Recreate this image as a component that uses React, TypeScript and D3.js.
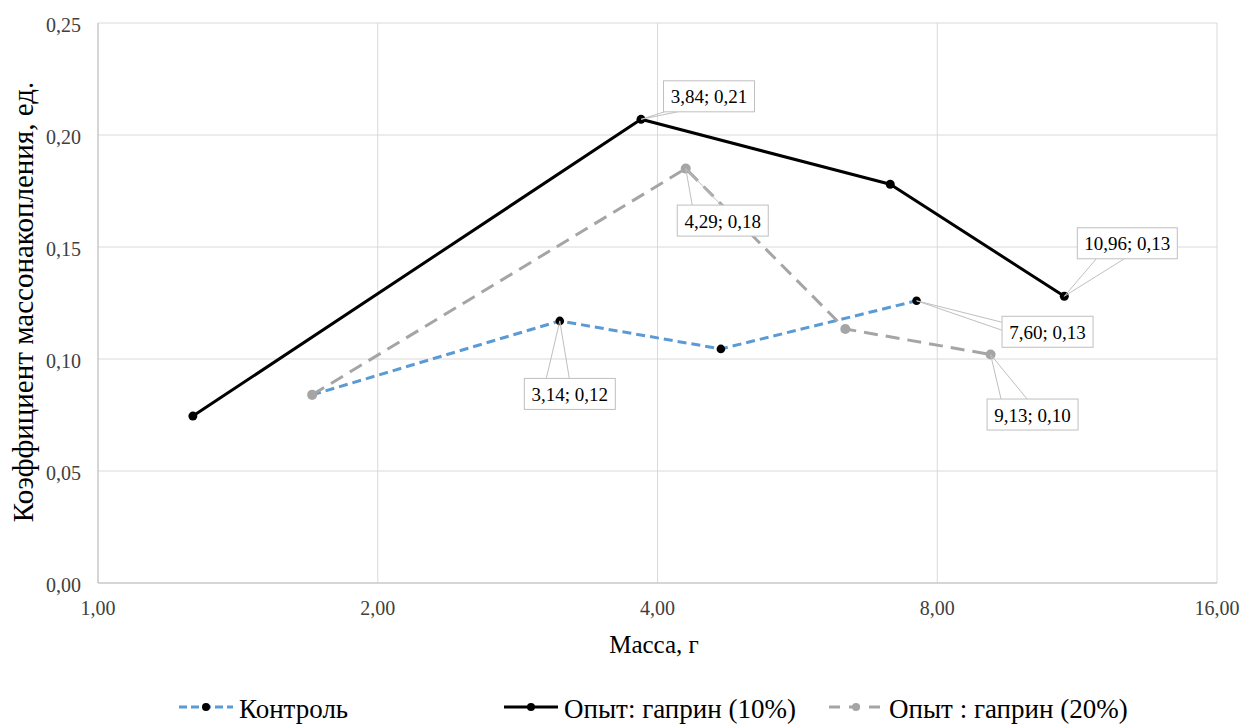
import React from "react";
import * as d3 from "d3";

const xTicks = [1, 2, 4, 8, 16];
const yTicks = [0, 0.05, 0.1, 0.15, 0.2, 0.25];

const controlX = [1.7, 3.14, 4.68, 7.6];
const controlY = [0.084, 0.117, 0.1045, 0.126];

const gap10X = [1.265, 3.84, 7.12, 10.96];
const gap10Y = [0.0745, 0.207, 0.178, 0.128];

const gap20X = [1.7, 4.29, 6.37, 9.13];
const gap20Y = [0.084, 0.185, 0.1134, 0.102];

const seriesNames = ["Контроль", "Опыт: гаприн (10%)", "Опыт : гаприн (20%)"];

// data labels: [series index, point index]
const labelPoints: [number, number][] = [
  [1, 1],
  [2, 1],
  [0, 1],
  [0, 3],
  [2, 3],
  [1, 3],
];
// layout: label box centre offsets from their points (px)
const labelOffsets: [number, number][] = [
  [68, -23],
  [37, 52],
  [10, 73],
  [131, 31],
  [42, 60],
  [63, -53],
];
// layout: leader attachment edge and offsets along that edge (px)
const labelLeaders: [string, number, number][] = [
  ["bottom", 1, 14],
  ["top", 15, 44],
  ["top", 22, 45],
  ["left", 6, 14],
  ["top", 14, 40],
  ["bottom", 19, 47],
];

const W = 1245;
const H = 725;
const M = { left: 98, right: 1217, top: 23, bottom: 583 };
const FONT = "'Liberation Serif', 'DejaVu Serif', serif";

const fmt = (v: number, d: number) => v.toFixed(d).replace(".", ",");

let ctx: CanvasRenderingContext2D | null = null;
function measure(text: string, size: number) {
  if (!ctx) ctx = document.createElement("canvas").getContext("2d");
  if (!ctx) return text.length * size * 0.45;
  ctx.font = `${size}px ${FONT}`;
  return ctx.measureText(text).width;
}

export default function App() {
  const x = d3.scaleLog().base(2).domain([1, 16]).range([M.left, M.right]);
  const y = d3.scaleLinear().domain([0, 0.25]).range([M.bottom, M.top]);

  const series = [
    { xs: controlX, ys: controlY, color: "#5B9BD5", dash: "9,5", width: 3, marker: "#000000", r: 4.3 },
    { xs: gap10X, ys: gap10Y, color: "#000000", dash: "", width: 3, marker: "#000000", r: 4.5 },
    { xs: gap20X, ys: gap20Y, color: "#A5A5A5", dash: "14,8", width: 3, marker: "#A5A5A5", r: 5 },
  ];

  const line = d3
    .line<[number, number]>()
    .x((d) => x(d[0]))
    .y((d) => y(d[1]));

  const labelFont = 19;
  const labelH = 31;

  const legendItems = [
    { x: 179, s: series[0], dash: "8,4" },
    { x: 504, s: series[1], dash: "" },
    { x: 829, s: series[2], dash: "11,9" },
  ];

  const T = { fontFamily: FONT } as React.CSSProperties;

  return (
    <svg
      width={W}
      height={H}
      style={{ position: "fixed", left: 0, top: 0, background: "#fff" }}
    >
      {/* gridlines */}
      {yTicks.map((t) => (
        <line key={"gy" + t} x1={M.left} x2={M.right} y1={y(t)} y2={y(t)} stroke="#D9D9D9" strokeWidth={1} />
      ))}
      {xTicks.map((t) => (
        <line key={"gx" + t} x1={x(t)} x2={x(t)} y1={M.top} y2={M.bottom} stroke="#D9D9D9" strokeWidth={1} />
      ))}
      {/* axes */}
      <line x1={M.left} x2={M.left} y1={M.top} y2={M.bottom} stroke="#BFBFBF" strokeWidth={1} />
      <line x1={M.left} x2={M.right} y1={M.bottom} y2={M.bottom} stroke="#BFBFBF" strokeWidth={1} />

      {/* tick labels */}
      {yTicks.map((t) => (
        <text key={"ty" + t} style={T} x={81} y={y(t) + 9} textAnchor="end" fontSize={20} fill="#404040">
          {fmt(t, 2)}
        </text>
      ))}
      {xTicks.map((t) => (
        <text key={"tx" + t} style={T} x={x(t)} y={615} textAnchor="middle" fontSize={20} fill="#404040">
          {fmt(t, 2)}
        </text>
      ))}

      {/* axis titles */}
      <text style={T} x={654} y={653} textAnchor="middle" fontSize={25} fill="#000">
        Масса, г
      </text>
      <text
        style={T}
        transform={`translate(33,302) rotate(-90)`}
        textAnchor="middle"
        fontSize={29}
        fill="#000"
      >
        Коэффициент массонакопления, ед.
      </text>

      {/* series */}
      {series.map((s, i) => {
        const pts: [number, number][] = s.xs.map((v, j) => [v, s.ys[j]]);
        return (
          <g key={"s" + i}>
            <path
              d={line(pts) || ""}
              fill="none"
              stroke={s.color}
              strokeWidth={s.width}
              strokeDasharray={s.dash}
              strokeLinejoin="round"
            />
            {pts.map((p, j) => (
              <circle key={j} cx={x(p[0])} cy={y(p[1])} r={s.r} fill={s.marker} />
            ))}
          </g>
        );
      })}

      {/* data labels */}
      {labelPoints.map(([si, pi], k) => {
        const s = series[si];
        const px = x(s.xs[pi]);
        const py = y(s.ys[pi]);
        const [dx, dy] = labelOffsets[k];
        const text = `${fmt(s.xs[pi], 2)}; ${fmt(s.ys[pi], 2)}`;
        const labelW = Math.round(measure(text, labelFont) + 14);
        const cx = px + dx;
        const cy = py + dy;
        const bx0 = cx - labelW / 2;
        const by0 = cy - labelH / 2;
        const by1 = cy + labelH / 2;
        const [edge, o1, o2] = labelLeaders[k];
        let a1: [number, number];
        let a2: [number, number];
        if (edge === "top" || edge === "bottom") {
          const ey = edge === "top" ? by0 : by1;
          a1 = [bx0 + o1, ey];
          a2 = [bx0 + o2, ey];
        } else {
          a1 = [bx0, by0 + o1];
          a2 = [bx0, by0 + o2];
        }
        return (
          <g key={"l" + k}>
            <line x1={px} y1={py} x2={a1[0]} y2={a1[1]} stroke="#BFBFBF" strokeWidth={1} />
            <line x1={px} y1={py} x2={a2[0]} y2={a2[1]} stroke="#BFBFBF" strokeWidth={1} />
            <rect x={bx0} y={by0} width={labelW} height={labelH} fill="#fff" stroke="#BFBFBF" strokeWidth={1} />
            <text style={T} x={cx} y={cy + 7} textAnchor="middle" fontSize={labelFont} fill="#000">
              {text}
            </text>
          </g>
        );
      })}

      {/* legend */}
      {legendItems.map((it, i) => (
        <g key={"lg" + i}>
          <line
            x1={it.x}
            x2={it.x + 54}
            y1={707}
            y2={707}
            stroke={it.s.color}
            strokeWidth={3}
            strokeDasharray={it.dash}
          />
          <circle cx={it.x + 27} cy={707} r={4} fill={it.s.marker} />
          <text style={T} x={it.x + 60} y={718} fontSize={27} fill="#000">
            {seriesNames[i]}
          </text>
        </g>
      ))}
    </svg>
  );
}
